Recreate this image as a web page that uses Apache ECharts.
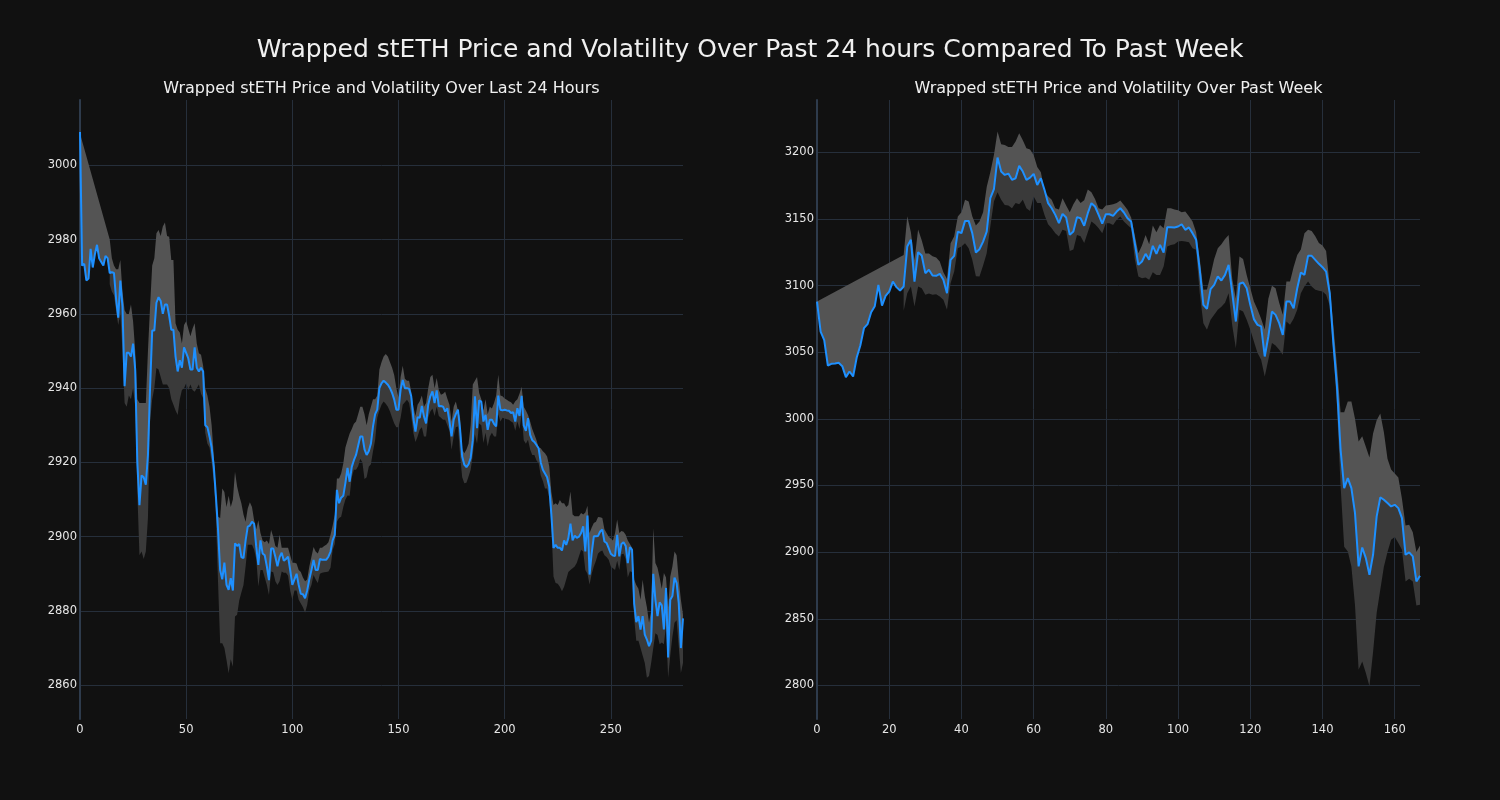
<!DOCTYPE html>
<html><head><meta charset="utf-8">
<script src="https://cdn.jsdelivr.net/npm/echarts@6/dist/echarts.min.js"></script>
<style>html,body{margin:0;padding:0;background:#111111;}#chart{width:1500px;height:800px;}</style>
</head><body><div id="chart"></div>
<script>
const mainTitle = 'Wrapped stETH Price and Volatility Over Past 24 hours Compared To Past Week';
const leftTitle = 'Wrapped stETH Price and Volatility Over Last 24 Hours';
const rightTitle = 'Wrapped stETH Price and Volatility Over Past Week';

// Last 24 hours (index 0..284)
const price24 = [
3009,2973,2973.5,2969,2969.5,2977.5,2972.5,2976,2978.6,2975,
2974,2973,2975.6,2975,2971,2971.2,2971,2964,2959,2969,
2962,2940.5,2949.5,2949.5,2948.5,2952,2945,2920,2908.5,2916.5,
2916,2914,2922,2940,2955.5,2955.5,2963,2964.5,2963.5,2960,
2962.5,2962.5,2959.5,2955.7,2955.7,2948.5,2944.5,2947.5,2945.5,2951,
2949.5,2948,2945,2945,2951,2945.5,2944.5,2945.5,2944.5,2930,
2929.5,2927,2924,2919,2911,2902,2891,2888.5,2893,2887,
2885.7,2888.8,2885.5,2898.2,2897.5,2898,2894.5,2894.2,2899,2902.7,
2903,2904,2903.5,2897.3,2892.4,2899,2895.5,2895,2892,2888.3,
2896.8,2896.8,2894.6,2892,2894.5,2895.7,2893.5,2894,2894.6,2891,
2887,2888.5,2890,2887,2884.6,2884.5,2883.4,2885.5,2888.5,2891,
2893.7,2891,2891,2894,2893.8,2893.8,2893.8,2894.6,2896,2899,
2900.5,2912.6,2909,2910.5,2911,2914.5,2918.5,2914.8,2918.8,2920.6,
2922,2924.5,2927,2927,2923.5,2922,2923,2925,2929.7,2933,
2934.2,2940,2941.3,2942,2941.5,2940.9,2940,2938.7,2936.9,2934.2,
2934.2,2939.6,2942.2,2940,2940,2939.8,2937.8,2931.9,2928.3,2932.2,
2932,2935.2,2932.4,2930.5,2935.5,2937.8,2939.1,2936,2939.4,2935.1,
2935.2,2935,2933.7,2934.6,2931,2927,2931.5,2933,2934.2,2929,
2921.6,2919.4,2918.7,2919.5,2921.2,2926,2937.8,2929.2,2936.7,2936.4,
2931,2932.8,2928.8,2931.5,2931.5,2930.4,2929.7,2938,2934.2,2934,
2934.2,2934,2933.9,2933.3,2933.5,2931,2934.6,2932.5,2937.9,2930,
2928.5,2931.9,2927.4,2926,2925.5,2924.7,2923.8,2920,2918,2917,
2916,2913.5,2906,2897,2897.8,2897,2897,2896.3,2899,2897.8,
2899.6,2903.5,2899,2900.3,2899.7,2900,2901,2902.8,2896,2905.7,
2889.8,2895.6,2900.1,2900.1,2900.2,2901.4,2901.9,2898.7,2898.3,2896.9,
2895.4,2894.9,2894.8,2900.5,2894.7,2898,2898.5,2897.5,2892.9,2897.2,
2896.5,2882,2877,2878.6,2875,2878.6,2873.6,2872.3,2870.5,2872,
2890,2883,2878.6,2882.3,2881.5,2875,2886.2,2867.5,2883,2884,
2889,2887.5,2882.1,2870,2878
];
const upper24 = [
3008.6,null,null,null,null,null,null,null,null,null,
null,null,null,null,2980,2975,2973,2972,2972,2974.5,
2966,2961,2960,2960,2962.5,2958,2950,2937,2936,2936,
2936,2936,2950,2962,2973,2975,2981.7,2982.6,2981,2983.5,
2984.6,2981,2980.8,2974.5,2974.5,2957.5,2955.7,2955,2952,2957,
2958,2956,2954,2956,2957.5,2952,2949.4,2949,2946,2940,
2938,2935,2930,2922,2912,2905.4,2905,2913,2912,2908,
2911,2908,2910,2917.5,2913.5,2911,2909,2906,2904,2907.6,
2909.3,2908,2904.4,2902,2904.4,2901,2899,2898.5,2899,2898,
2901.8,2900,2897.5,2897,2900.5,2897,2897,2897,2897,2895,
2893,2893,2892.8,2891,2890.5,2889,2888,2888.5,2892,2894.6,
2897.2,2896,2895.5,2897,2897,2897.5,2897.8,2898.5,2900.5,2903,
2906,2915.7,2915.7,2917,2919.7,2924,2926,2927.8,2929,2930.4,
2931,2933,2935,2935,2933,2930,2933,2935,2937,2937,
2938,2945,2947,2948.5,2949.2,2948.5,2947,2945.5,2943.5,2940,
2937.5,2943,2946,2942.5,2942,2942,2939,2935,2932.5,2935.5,
2936.5,2938,2935,2936,2940,2943,2943.6,2940,2942.7,2939.5,
2938.2,2938.5,2939,2937.2,2935.5,2931,2935,2936.4,2934,2932,
2923.5,2922.5,2923.5,2925,2930,2941,2942,2943,2938.7,2937,
2934,2937,2933,2935,2934.5,2936,2938,2943.6,2938,2937.8,
2937.2,2936.9,2936.5,2936.2,2935.5,2936.5,2937,2938.5,2940.4,2935,
2934,2932.8,2931,2929,2927.5,2926,2924,2923.8,2923,2922.5,
2921.6,2919,2912,2908.5,2909,2908.5,2909.9,2909,2909,2908,
2908.5,2912.2,2906,2905.5,2905.5,2905.5,2906.4,2906,2906.5,2908.3,
2901,2902.5,2903.7,2904,2905.3,2905.2,2905,2902,2901,2900,
2899.5,2899,2901,2904.6,2901,2901.5,2901.3,2900.5,2899,2898,
2897,2888.4,2887,2886,2883,2888.4,2884,2881,2876.8,2880,
2902.3,2892.9,2891.6,2889,2886,2890.2,2889,2881,2889.3,2892,
2896,2895,2888.4,2883,2879
];
const lower24 = [
null,null,null,null,null,null,null,null,null,null,
null,null,null,null,2968,2966,2965,2961,2957,2960,
2950,2936,2935,2938,2937,2940,2935,2912,2895,2896,
2894,2896,2905,2931,2937,2940,2945.4,2945,2943,2941,
2941,2941,2940,2937,2935.5,2934,2932.8,2937,2939.5,2940,
2941.3,2939.5,2941,2939.5,2939,2940,2941,2938.5,2937.3,2928,
2925,2924,2920,2915,2906,2888,2871.3,2871.3,2870,2866.8,
2863.2,2867,2865,2878.5,2879,2882.8,2885,2887,2892,2897.8,
2897.8,2897.8,2896.5,2894,2886.6,2891,2891,2889,2887,2884.3,
2890.6,2890.4,2888,2887,2888,2890.6,2890.3,2890.3,2889.5,2885.5,
2883,2885.5,2885.5,2883,2882,2881,2879.5,2881.6,2885.5,2887,
2889.7,2888.5,2887.5,2890,2890.3,2890.4,2890.5,2890.6,2891.6,2896.4,
2898,2904,2905,2905.4,2908,2910,2911.1,2911,2916,2918,
2918,2919,2921,2920,2915.5,2916,2918.8,2919.5,2923,2926,
2932,2934,2935.5,2936.4,2935.8,2935,2933.7,2932,2930.5,2929.5,
2929.5,2932,2935.5,2936.2,2936.9,2936,2932.4,2927.9,2925.5,2927,
2928.8,2929.5,2927,2927,2932,2933.7,2934.5,2932.5,2935,2932.5,
2932,2931.5,2931.5,2930,2928.5,2923.4,2927,2929.5,2929.7,2922,
2916,2914.4,2914.5,2916.2,2918,2922,2927.5,2925,2930.5,2930,
2925.2,2928,2924.3,2927,2928,2927,2927,2933,2931,2932,
2931.8,2931.6,2931.5,2931,2930.7,2928.5,2931,2929,2933,2926,
2925,2926.1,2923.5,2922,2922,2920.5,2919.8,2916.5,2915,2913,
2913,2910.5,2903,2889.3,2887.5,2887.3,2886.5,2885.3,2886.5,2888.5,
2890.5,2891,2891.5,2892,2893,2894.7,2896.5,2896,2891,2890,
2887.1,2890,2892,2893.5,2895.5,2896,2896.3,2895,2894.5,2893.8,
2892,2891.5,2891,2893.5,2891,2895.3,2895.4,2894,2889,2890.7,
2890.5,2878,2872,2872,2870,2868,2866,2862,2862.5,2866,
2870,2874,2873.5,2871,2871.5,2871,2876,2862,2868,2873,
2876.8,2877.5,2870.5,2863.3,2866
];

// Past week (index 0..167)
const priceWeek = [
3088,3065.5,3059,3040,3041.3,3041.5,3042,3039.5,3031.3,3035.5,
3031.8,3046,3055,3068,3071,3080,3084.5,3100.5,3085,3092.3,
3095.5,3103,3098.8,3096.3,3099.3,3129.3,3134.3,3103,3125,3122.5,
3109.3,3111.8,3107.5,3107.3,3108.8,3104.3,3094.3,3119.3,3122.3,3140.5,
3139.3,3148.5,3148.5,3139.3,3124.8,3127.3,3133,3140.5,3165.5,3172.3,
3196,3185.5,3183,3184,3179.3,3180.5,3189.8,3185.5,3179.3,3181,
3183.8,3175.5,3180.5,3171.8,3161.8,3158,3153,3146.8,3153.8,3151,
3138,3140.5,3151.3,3150.5,3144.8,3154.3,3161.8,3159.3,3153,3146.5,
3153.5,3153.5,3152.3,3155.5,3158,3154.8,3150.5,3148,3131.8,3115.5,
3118,3123.8,3119.3,3129.8,3123.8,3130.5,3124.8,3143.8,3143.8,3143.6,
3144.3,3146,3141.8,3143.6,3139.3,3134.3,3111.8,3085.5,3082.5,3097.3,
3100.5,3106.8,3103.8,3108,3115.5,3094.3,3073,3101.3,3102.3,3098,
3085.5,3074.8,3070.5,3069.3,3046.8,3061.8,3080.5,3078,3071.8,3063,
3088,3088,3083,3098,3109.8,3108,3122.3,3122.3,3119.3,3116.3,
3113.8,3110.5,3094.3,3056.8,3024.3,2977,2948,2955.5,2948,2929.3,
2889.3,2903.5,2895.5,2883,2898,2926.8,2941,2939.3,2936.8,2934.3,
2935.5,2933,2925.5,2898,2899.8,2896.8,2878,2882.3
];
const upperWeek = [
3088,null,null,null,null,null,null,null,null,null,
null,null,null,null,null,null,null,null,null,null,
null,null,null,null,3123,3152,3140,3119,3142,3134,
3124,3124,3122,3121,3118,3110,3105,3131.8,3137,3151.8,
3155,3164.3,3163,3152,3145,3148,3155,3174,3185,3198,
3215.5,3206,3205.5,3204,3204,3208,3214.3,3209,3203,3202,
3198,3189,3185,3171,3167,3164.3,3158,3157,3165.5,3160,
3155,3161,3165.5,3162,3164,3172,3170,3165,3158,3157,
3160,3160.5,3161,3162,3163.8,3160.5,3156.8,3151,3138,3124.3,
3130,3138,3131,3145,3140,3145.5,3143,3158,3158,3157,
3156.5,3155,3155.5,3152,3148,3140,3120,3096.8,3097,3108,
3120,3128,3131,3135,3138,3105,3090,3121.8,3120,3108,
3098,3088,3082,3075,3067,3090,3099.8,3098,3087,3078,
3103,3103,3114,3123,3127,3139.3,3141.8,3141,3137,3132,
3130,3126,3100,3070,3040,3005,3005,3013,3013,3000,
2983,2987,2979,2971,2989,2999,3004,2990,2970,2962,
2959,2956,2940,2920,2920.5,2915,2900,2905
];
const lowerWeek = [
null,null,null,null,null,null,null,null,null,null,
null,null,null,null,null,null,null,null,null,null,
null,null,null,null,3081,3094.3,3099.3,3084.3,3099.3,3098,
3093,3094,3093,3093.5,3091.8,3089.3,3081.8,3101.8,3110.5,3128,
3129.3,3131.8,3128,3119.3,3107,3106.8,3115,3124.3,3144.3,3163,
3170,3164.3,3160.5,3160,3158,3162,3161,3164.3,3158,3156,
3166.8,3162,3162,3153,3146,3143,3139.3,3136.8,3141.8,3141,
3126,3127,3138,3137,3132,3140,3148,3146,3143,3139.3,
3146.8,3146.8,3145.5,3149.3,3151.8,3148,3145.5,3143,3120,3106.8,
3105.5,3106,3104.3,3110,3108,3108,3114.3,3129.3,3130.5,3131,
3133,3133.5,3133,3132.5,3128,3126.8,3094.3,3071.8,3066.8,3074.3,
3078,3081.8,3084,3087,3094.3,3070,3053,3081.8,3080.5,3074.3,
3066.8,3058,3049.3,3044.3,3031.8,3044.3,3056.8,3055,3051.8,3048,
3073,3070.5,3075,3081.8,3094.3,3099.3,3103,3099.3,3096.8,3096,
3095.5,3093,3085,3050,3010,2950,2904,2900.5,2889.3,2860,
2811.8,2818,2809.3,2799.3,2825,2854.3,2871.8,2889,2900,2909.3,
2911.3,2906.8,2901.8,2878,2880,2878,2860,2860.5
];

const FONT = 'DejaVu Sans';
const gridColor = '#262f3b';
const spineColor = '#2e3b4c';
const lightBand = '#545454';
const darkBand = '#3a3a3a';
const lineColor = '#1e90ff';

function toPairs(arr) { return arr.map((v, i) => [i, v]); }

function bandSeries(idx, price, bound, color) {
  return {
    type: 'custom', coordinateSystem: 'cartesian2d', xAxisIndex: idx, yAxisIndex: idx,
    data: [[0, price[0]]], encode: { x: 0, y: 1 }, silent: true, clip: true, z: 1,
    renderItem: function (params, api) {
      const poly = []; let first = -1, last = -1;
      for (let i = 0; i < bound.length; i++) {
        if (bound[i] != null) { poly.push(api.coord([i, bound[i]])); if (first < 0) first = i; last = i; }
      }
      for (let i = last; i >= first; i--) poly.push(api.coord([i, price[i]]));
      return { type: 'polygon', shape: { points: poly }, style: { fill: color } };
    }
  };
}

function xAxisCfg(idx, max, interval) {
  return {
    gridIndex: idx, type: 'value', min: 0, max: max, interval: interval,
    axisLine: { show: false }, axisTick: { show: false },
    splitLine: { show: true, showMaxLine: false, lineStyle: { color: gridColor, width: 1 } },
    axisLabel: { color: '#e6e6e6', fontSize: 11.5, fontFamily: FONT, margin: 5, showMaxLabel: false,
      formatter: v => String(v) }
  };
}
function yAxisCfg(idx, min, max) {
  return {
    gridIndex: idx, type: 'value', min: min, max: max, splitNumber: 8, scale: true,
    axisLine: { show: true, lineStyle: { color: spineColor, width: 2 } }, axisTick: { show: false },
    splitLine: { show: true, showMinLine: false, showMaxLine: false, lineStyle: { color: gridColor, width: 1 } },
    axisLabel: { color: '#e6e6e6', fontSize: 11.5, fontFamily: FONT, margin: 3,
      showMinLabel: false, showMaxLabel: false, formatter: v => String(v) }
  };
}

const chart = echarts.init(document.getElementById('chart'), null, { renderer: 'canvas' });
chart.setOption({
  backgroundColor: '#111111',
  animation: false,
  title: [
    { text: mainTitle, left: 750, top: 38, padding: 0, textAlign: 'center',
      textStyle: { color: '#f0f0f0', fontSize: 25, fontWeight: 'normal', fontFamily: FONT } },
    { text: leftTitle, left: 381.5, top: 81, padding: 0, textAlign: 'center',
      textStyle: { color: '#f0f0f0', fontSize: 16, fontWeight: 'normal', fontFamily: FONT } },
    { text: rightTitle, left: 1118.5, top: 81, padding: 0, textAlign: 'center',
      textStyle: { color: '#f0f0f0', fontSize: 16, fontWeight: 'normal', fontFamily: FONT } }
  ],
  grid: [
    { left: 80, right: 817, top: 100, bottom: 81, containLabel: false },
    { left: 817, right: 80, top: 100, bottom: 81, containLabel: false }
  ],
  xAxis: [xAxisCfg(0, 284, 50), xAxisCfg(1, 167, 20)],
  yAxis: [yAxisCfg(0, 2850.9, 3017.6), yAxisCfg(1, 2774.8, 3239.2)],
  series: [
    bandSeries(0, price24, upper24, lightBand),
    bandSeries(0, price24, lower24, darkBand),
    { type: 'line', xAxisIndex: 0, yAxisIndex: 0, data: toPairs(price24), showSymbol: false, z: 3,
      lineStyle: { color: lineColor, width: 2 }, silent: true },
    bandSeries(1, priceWeek, upperWeek, lightBand),
    bandSeries(1, priceWeek, lowerWeek, darkBand),
    { type: 'line', xAxisIndex: 1, yAxisIndex: 1, data: toPairs(priceWeek), showSymbol: false, z: 3,
      lineStyle: { color: lineColor, width: 2 }, silent: true }
  ]
});
</script></body></html>
